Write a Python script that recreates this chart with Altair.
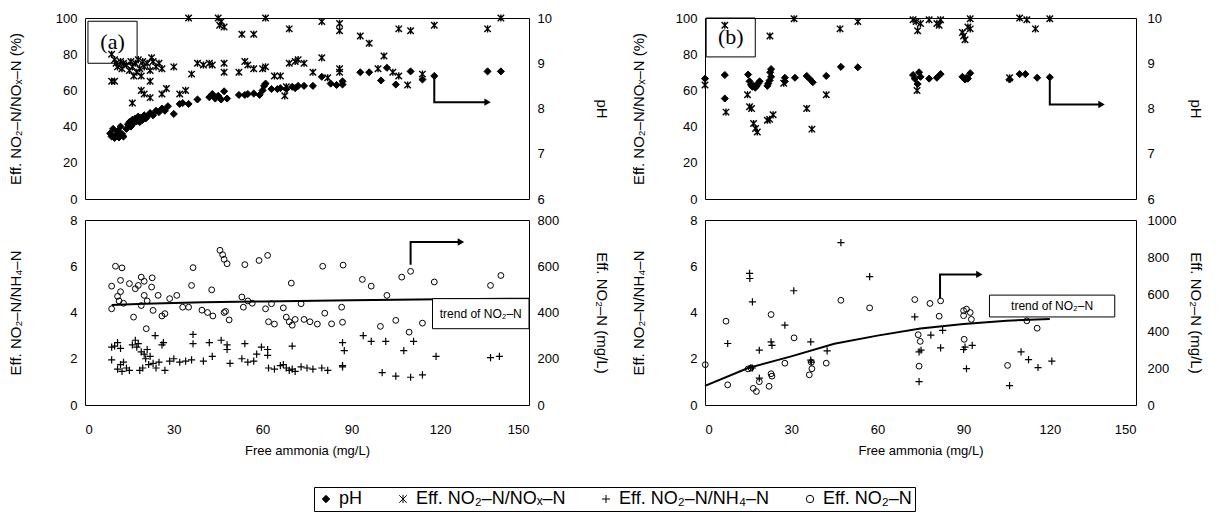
import altair as alt
import pandas as pd

FONT = "Liberation Sans"
SERIES = ["pH", "Eff. NO₂–N/NOₓ–N", "Eff. NO₂–N/NH₄–N", "Eff. NO₂–N"]
SHAPES = ["diamond", "M-1,-1L1,1M-1,1L1,-1M0,-1.1L0,1.1", "M-1.1,0L1.1,0M0,-1.1L0,1.1", "circle"]
FILLS = ["black", "transparent", "transparent", "transparent"]
STROKES = ["black", "black", "black", "black"]

# ---------------- panel (a) top ----------------
a_ph_x = [8.5, 9, 9.5, 10, 10.5, 11, 11.5, 12, 12.5, 13, 14, 14.5, 15, 15.5, 16, 16.5, 17, 17.5, 18, 18.5,
          19, 19.5, 20, 20.5, 21, 22, 23, 24, 25, 26, 27, 28, 30, 32, 33, 35, 38, 42, 43, 44, 45, 46, 47, 48,
          52, 54, 55, 57, 59, 60, 60.5, 61, 63, 65, 66, 68, 70, 71, 72, 74, 77, 80, 83, 85, 87, 87,
          93, 96, 100, 102, 105, 110, 114, 118, 136, 140.5]
a_ph_y = [7.45, 7.38, 7.55, 7.35, 7.42, 7.5, 7.36, 7.6, 7.44, 7.38, 7.55, 7.65, 7.7, 7.6, 7.75, 7.68, 7.78, 7.72, 7.82, 7.7,
          7.8, 7.75, 7.85, 7.78, 7.82, 7.9, 7.85, 7.95, 7.92, 8.0, 7.95, 8.05, 7.88, 8.1, 8.12, 8.1, 8.2, 8.25, 8.32, 8.22, 8.28, 8.2, 8.38, 8.22,
          8.3, 8.3, 8.32, 8.33, 8.3, 8.4, 8.5, 8.55, 8.43, 8.43, 8.45, 8.43, 8.48, 8.45, 8.5, 8.5, 8.5, 8.7, 8.55, 8.52, 8.53, 8.6,
          8.8, 8.8, 8.62, 8.9, 8.53, 8.82, 8.64, 8.72, 8.82, 8.82]
a_nox_x = [35, 45, 46, 45.5, 47, 61, 53, 57, 69, 80, 86, 86, 93, 96, 106, 110, 118, 136, 140.5,
           9, 10, 10.5, 11, 12, 12.5, 13, 14, 15, 15.5, 16, 16.5, 17, 17.5, 18, 18.5, 19, 19.5, 20, 21, 22, 22.5, 23, 24, 25, 26,
           9, 10, 22, 16, 19, 20, 22, 26, 27.5, 30, 32, 34, 36, 38, 40, 43, 42, 47, 47, 52, 54, 55, 57, 60, 61, 64, 66,
           67.5, 68, 69, 71, 72, 74, 77, 80, 82, 86, 86, 99, 101, 104, 106, 109, 114]
a_nox_y = [100, 100, 98, 96, 95, 100, 91, 91, 94, 98, 97, 93, 90, 86, 94, 93, 96, 94, 100,
           80, 77, 75, 73, 76, 72, 75, 74, 71, 76, 73, 68, 75, 70, 77, 72, 68, 76, 73, 75, 71, 78, 76, 73, 75, 72,
           65, 65, 65, 53, 60, 58, 56, 58, 61, 73, 58, 60, 69, 75, 74, 74, 75, 70, 75, 70, 76, 74, 72, 72, 73, 68, 68,
           57, 62, 75, 76, 77, 75, 70, 78, 67, 70, 72, 72, 79, 70, 68, 63, 69]

# ---------------- panel (a) bottom ----------------
a_nh4_x = [9, 10, 11, 12, 9, 11, 12, 12.5, 13, 14, 15, 16, 17, 17.5, 18, 18.5, 19, 19.5, 20, 20.5, 21, 21.5, 22, 23,
           23.7, 24, 25, 26, 26.5, 27, 28.6, 30, 32, 34, 36, 36.5, 36.5, 40, 42, 43, 46, 48, 48, 49, 54, 53, 55, 57,
           58, 59.6, 61.7, 61.7, 62, 64, 66, 67, 68, 69, 70, 71, 70, 73, 75, 77, 80, 82, 87, 87, 87, 87.6, 94, 96.7,
           100.4, 101.6, 105, 107.7, 110, 111, 114, 118.6, 137, 140]
a_nh4_y = [2.5, 2.55, 2.7, 2.45, 1.95, 1.55, 1.75, 1.45, 1.85, 1.6, 1.5, 2.6, 2.8, 2.5, 2.65, 1.5, 2.3, 1.6, 2.2, 2.0, 2.4, 1.75, 2.1, 1.8,
           3.0, 1.6, 1.85, 2.6, 2.7, 1.5, 1.9, 2.0, 1.85, 1.9, 1.95, 2.65, 3.05, 1.9, 2.7, 2.1, 2.8, 2.4, 2.6, 1.8, 2.65, 2.0, 1.85, 1.9,
           2.2, 2.5, 2.15, 2.4, 1.6, 1.55, 1.7, 1.75, 1.6, 1.5, 1.55, 1.45, 2.55, 1.65, 1.6, 1.55, 1.6, 1.5, 1.7, 1.65, 2.7, 2.35, 3.0, 2.75,
           1.4, 2.75, 1.25, 2.35, 1.2, 2.75, 1.3, 2.1, 2.05, 2.1]
a_no2_x = [9, 10.3, 12.5, 12, 9, 11, 12, 11.5, 13, 15, 16.4, 17, 18, 19, 20, 19, 20, 21, 22.7, 22.5, 23, 20.7, 24.7,
           26, 27, 28.6, 31, 33, 35, 36, 36.5, 39.5, 41.4, 43.2, 42.8, 45.6, 46.5, 47, 48, 47.5, 47, 48.7, 53, 53.5,
           54, 55, 56.5, 58.8, 61.7, 61, 63, 62, 64, 67, 68, 69, 70, 71, 69.7, 73, 74, 76, 78.5, 80.3, 81, 83.3,
           86.7, 87, 87.2, 93.7, 96.7, 99.8, 102, 105, 107, 110, 109.5, 114, 118, 137, 140.5]
a_no2_y = [514, 600, 593, 539, 416, 470, 490, 450, 440, 525, 380, 503, 517, 553, 535, 430, 474, 450, 550, 510, 409, 330, 474,
           385, 395, 460, 474, 423, 423, 517, 594, 410, 400, 385, 498, 669, 650, 630, 611, 405, 400, 368, 467, 423,
           607, 450, 440, 625, 647, 416, 438, 360, 350, 420, 380, 360, 345, 370, 527, 438, 370, 360, 350, 600, 397, 351,
           423, 358, 605, 543, 514, 340, 474, 366, 553, 578, 315, 354, 532, 517, 560]
a_trend_x = [9, 20, 40, 60, 90, 120, 150]
a_trend_y = [432, 438, 444, 448, 453, 457, 460]

# ---------------- panel (b) top ----------------
b_ph_x = [0, 6.9, 6.9, 15, 15.5, 16, 16.5, 17, 17.5, 18, 18.5, 19, 21.7, 22, 22.5, 23, 23, 22.7, 27.8, 27.8, 31.3,
          35.4, 36.5, 37.5, 42.2, 47.3, 53.2, 72.4, 73, 74, 74.5, 75, 78, 80.7, 82, 89.6, 90.5, 91, 92.3, 91.5,
          106, 109.5, 111.5, 115.6, 120]
b_ph_y = [8.66, 8.74, 8.22, 8.75, 8.6, 8.52, 8.48, 8.5, 8.46, 8.5, 8.55, 8.6, 8.5, 8.55, 8.62, 8.7, 8.87, 8.8, 8.68, 8.6, 8.68,
          8.72, 8.65, 8.58, 8.72, 8.92, 8.91, 8.74, 8.66, 8.54, 8.8, 8.7, 8.66, 8.68, 8.76, 8.7, 8.64, 8.68, 8.78, 8.66,
          8.64, 8.76, 8.76, 8.68, 8.69]
b_nox_x = [0, 6.9, 7.3, 14.8, 15.5, 16.2, 16.9, 17.6, 18.2, 21.7, 22.5, 23.7, 22.6, 27.4, 31, 35.4, 37.2, 42.2, 47,
           53.2, 72.4, 73.5, 74, 73.8, 75, 78, 80.7, 82, 81.5, 89.6, 90, 90.5, 91.5, 92.3, 92.3, 106, 109.5, 112,
           115, 120]
b_nox_y = [63, 96, 48, 57.6, 51, 50, 41.7, 39, 37, 43.5, 44, 46.5, 90, 64, 99.6, 50, 38.6, 57.6, 94,
           98, 99, 98, 93, 60, 97, 99, 97, 99, 96, 92, 90, 88, 95, 94, 99.6, 67, 100, 99,
           94, 99.6]

# ---------------- panel (b) bottom ----------------
b_nh4_x = [15.5, 15.6, 16.5, 7.9, 18.9, 23, 23.3, 27.8, 30.9, 36.8, 36.8, 37, 42.5, 47.3, 57.3, 73, 78.6, 82.7,
           82, 74.5, 75.2, 91, 90, 90.5, 93, 110, 112.6, 115.9, 120.7, 18.9, 74.5, 106, 15.9, 16.5]
b_nh4_y = [5.69, 5.47, 4.46, 2.66, 2.37, 2.73, 2.58, 3.45, 4.94, 2.73, 1.94, 1.85, 2.34, 7.02, 5.55, 3.81, 3.02, 3.23,
           2.47, 2.3, 2.37, 1.57, 2.4, 2.5, 2.58, 2.3, 1.96, 1.62, 1.9, 1.16, 1.01, 0.84, 1.61, 1.6]
b_no2_x = [0.1, 7.3, 7.9, 16.8, 17.9, 18.9, 22.3, 23, 23.3, 27.8, 31, 23, 36.3, 37.2, 37, 42.2, 47.3, 57.3, 73,
           78.3, 82, 81.5, 74.2, 74.9, 74.5, 90, 90.2, 90, 91, 92.3, 92.7, 105.3, 112, 115.6, 16, 15]
b_no2_y = [218, 453, 109, 90, 73, 126, 101, 169, 156, 226, 363, 489, 163, 196, 231, 226, 566, 525, 570,
           549, 563, 480, 380, 344, 210, 483, 355, 510, 518, 500, 463, 214, 455, 415, 200, 195]
b_trend_x = [0, 15, 30, 45, 60, 75, 90, 105, 120]
b_trend_y = [103, 200, 263, 331, 375, 413, 438, 456, 465]

# ---------------- annotations ----------------
a_top_arrow_x = [118, 118, 136]
a_top_arrow_y = [8.72, 8.14, 8.14]
a_bot_arrow_x = [110, 110, 127]
a_bot_arrow_y = [607, 705, 705]
b_top_arrow_x = [120, 120, 138]
b_top_arrow_y = [8.68, 8.09, 8.09]
b_bot_arrow_x = [81.8, 81.8, 95.5]
b_bot_arrow_y = [576, 706, 706]
a_box = [1.0, 17.6, 75, 98.2]
b_box = [0.4, 17.5, 78.5, 100]
a_trend_box = [117.4, 150, 330, 460]
b_trend_box = [99, 142.6, 476, 594]
TREND_TEXT = "trend of NO₂–N"

XSCALE = alt.Scale(domain=[0, 150], nice=False, zero=False)
SHAPE_SCALE = alt.Scale(domain=SERIES, range=SHAPES)
FILL_SCALE = alt.Scale(domain=SERIES, range=FILLS)
STROKE_SCALE = alt.Scale(domain=SERIES, range=STROKES)
LEGEND = alt.Legend(title=None, orient="none", legendX=229, legendY=469, direction="horizontal")


def points(xs, ys, idx, size, ysc, yax, xax, sw=1.0):
    df = pd.DataFrame({"x": xs, "y": ys, "series": SERIES[idx]})
    return alt.Chart(df).mark_point(strokeWidth=sw, size=size, opacity=1).encode(
        x=alt.X("x:Q", scale=XSCALE, axis=xax),
        y=alt.Y("y:Q", scale=ysc, axis=yax),
        shape=alt.Shape("series:N", scale=SHAPE_SCALE, legend=LEGEND),
        fill=alt.Fill("series:N", scale=FILL_SCALE, legend=LEGEND),
        stroke=alt.Stroke("series:N", scale=STROKE_SCALE, legend=LEGEND),
    )


def line(xs, ys, ysc, yax, xax, width=2):
    df = pd.DataFrame({"x": xs, "y": ys, "o": list(range(len(xs)))})
    return alt.Chart(df).mark_line(color="black", strokeWidth=width).encode(
        x=alt.X("x:Q", scale=XSCALE, axis=xax),
        y=alt.Y("y:Q", scale=ysc, axis=yax),
        order="o:Q",
    )


def head(xs, ys, ysc, yax, xax):
    df = pd.DataFrame({"x": xs[-1:], "y": ys[-1:]})
    return alt.Chart(df).mark_point(shape="triangle-right", filled=True, color="black", size=55, opacity=1).encode(
        x=alt.X("x:Q", scale=XSCALE, axis=xax),
        y=alt.Y("y:Q", scale=ysc, axis=yax),
    )


def box(b, ysc, yax, xax, fill):
    df = pd.DataFrame({"x0": [b[0]], "x1": [b[1]], "y0": [b[2]], "y1": [b[3]]})
    return alt.Chart(df).mark_rect(fill=fill, stroke="black", strokeWidth=1).encode(
        x=alt.X("x0:Q", scale=XSCALE, axis=xax), x2="x1:Q",
        y=alt.Y("y0:Q", scale=ysc, axis=yax), y2="y1:Q",
    )


def label(b, text, font, size, ysc, yax, xax):
    df = pd.DataFrame({"x": [(b[0] + b[1]) / 2], "y": [(b[2] + b[3]) / 2], "t": [text]})
    return alt.Chart(df).mark_text(font=font, fontSize=size, color="black", align="center", baseline="middle").encode(
        x=alt.X("x:Q", scale=XSCALE, axis=xax),
        y=alt.Y("y:Q", scale=ysc, axis=yax),
        text="t:N",
    )


XAX_BOTTOM = alt.Axis(title="Free ammonia (mg/L)", values=[0, 30, 60, 90, 120, 150], labelPadding=18,
                      titlePadding=8, titleFontSize=13)

PCT = alt.Scale(domain=[0, 100], nice=False, zero=False)
PH = alt.Scale(domain=[6, 10], nice=False, zero=False)
RATIO = alt.Scale(domain=[0, 8], nice=False, zero=False)
MG_A = alt.Scale(domain=[0, 800], nice=False, zero=False)
MG_B = alt.Scale(domain=[0, 1000], nice=False, zero=False)


def left_axis(title, values, tp):
    return alt.Axis(title=title, values=values, orient="left", labelPadding=8, minExtent=30, maxExtent=30,
                    titlePadding=tp, format="d")


def right_axis(title, values, lp, tp):
    return alt.Axis(title=title, values=values, orient="right", labelPadding=lp, minExtent=40, maxExtent=40,
                    titlePadding=tp, format="d")


def top_panel(ph_x, ph_y, nox_x, nox_y, arr_x, arr_y, bx, btext, lt, rl, rt, width):
    lax = left_axis("Eff. NO₂–N/NOₓ–N (%)", [0, 20, 40, 60, 80, 100], lt)
    rax = right_axis("pH", [6, 7, 8, 9, 10], rl, rt)
    left = alt.layer(
        points(nox_x, nox_y, 1, 42, PCT, lax, None, 1.4),
        box(bx, PCT, lax, None, "transparent"),
        label(bx, btext, "Liberation Serif", 22, PCT, lax, None),
    )
    right = alt.layer(
        points(ph_x, ph_y, 0, 50, PH, rax, None),
        line(arr_x, arr_y, PH, rax, None),
        head(arr_x, arr_y, PH, rax, None),
    )
    return alt.layer(left, right).resolve_scale(y="independent").properties(width=width, height=181)


def bottom_panel(nh4_x, nh4_y, no2_x, no2_y, tr_x, tr_y, arr_x, arr_y, tb, mg, mg_vals, lt, rl, rt, width):
    lax = left_axis("Eff. NO₂–N/NH₄–N", [0, 2, 4, 6, 8], lt)
    rax = right_axis("Eff. NO₂–N (mg/L)", mg_vals, rl, rt)
    left = alt.layer(
        points(nh4_x, nh4_y, 2, 42, RATIO, lax, XAX_BOTTOM, 1.2),
    )
    right = alt.layer(
        points(no2_x, no2_y, 3, 34, mg, rax, XAX_BOTTOM),
        line(tr_x, tr_y, mg, rax, XAX_BOTTOM),
        line(arr_x, arr_y, mg, rax, XAX_BOTTOM),
        head(arr_x, arr_y, mg, rax, XAX_BOTTOM),
        box(tb, mg, rax, XAX_BOTTOM, "white"),
        label(tb, TREND_TEXT, FONT, 12, mg, rax, XAX_BOTTOM),
    )
    return alt.layer(left, right).resolve_scale(y="independent").properties(width=width, height=185)


top_a = top_panel(a_ph_x, a_ph_y, a_nox_x, a_nox_y, a_top_arrow_x, a_top_arrow_y, a_box, "(a)",
                  31.5, 8, 24.5, 444)
bot_a = bottom_panel(a_nh4_x, a_nh4_y, a_no2_x, a_no2_y, a_trend_x, a_trend_y, a_bot_arrow_x, a_bot_arrow_y,
                     a_trend_box, MG_A, [0, 200, 400, 600, 800], 31.5, 8, 24.5, 444)
top_b = top_panel(b_ph_x, b_ph_y, b_nox_x, b_nox_y, b_top_arrow_x, b_top_arrow_y, b_box, "(b)",
                  28.5, 11, 11, 431)
bot_b = bottom_panel(b_nh4_x, b_nh4_y, b_no2_x, b_no2_y, b_trend_x, b_trend_y, b_bot_arrow_x, b_bot_arrow_y,
                     b_trend_box, MG_B, [0, 200, 400, 600, 800, 1000], 28.5, 11, 11, 431)

col_a = alt.vconcat(top_a, bot_a, spacing=6).resolve_scale(
    x="independent", y="independent", shape="shared", fill="shared", stroke="shared")
col_b = alt.vconcat(top_b, bot_b, spacing=6).resolve_scale(
    x="independent", y="independent", shape="shared", fill="shared", stroke="shared")

chart = alt.hconcat(col_a, col_b, spacing=22).resolve_scale(
    x="independent", y="independent", shape="shared", fill="shared", stroke="shared"
).properties(
    padding={"left": 0, "top": 3, "right": 0, "bottom": 0}
).configure_view(
    stroke="black", strokeWidth=1
).configure_axis(
    labelFont=FONT, labelFontSize=13, labelColor="black", titleFont=FONT, titleFontSize=15,
    titleFontWeight="normal", titleColor="black", grid=False, ticks=False, domain=False
).configure_legend(
    labelFont=FONT, labelFontSize=18, labelColor="black", symbolStrokeColor="black", symbolStrokeWidth=1,
    symbolSize=55, strokeColor="black", padding=3, columnPadding=31, labelOffset=4
)

chart.save("out.html", embed_options={"renderer": "svg", "actions": False})
